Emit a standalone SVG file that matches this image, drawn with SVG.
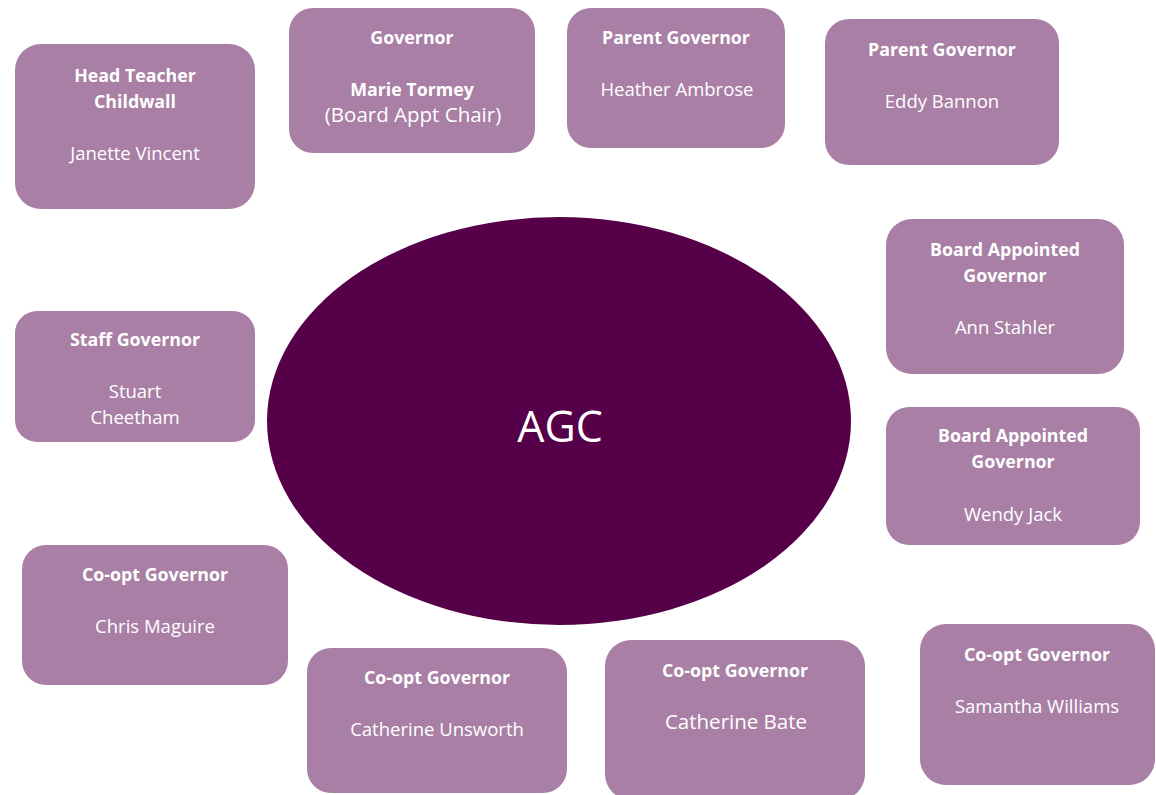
<svg xmlns="http://www.w3.org/2000/svg" width="1156" height="795" viewBox="0 0 1156 795">
<style>
.box{fill:#A97FA5}
.t{font-family:"Open Sans","Noto Sans","Liberation Sans",sans-serif;fill:#FFFFFF;text-anchor:middle;font-size:18.5px}
.b{font-weight:bold;font-size:17.8px}
.l{font-size:20.5px}
</style>
<rect width="1156" height="795" fill="#FFFFFF"/>
<g id="connectors"></g>
<g id="agc">
<ellipse cx="559" cy="421" rx="292" ry="204" fill="#56004A"/>
<text class="t" x="560" y="442" style="font-size:43px">AGC</text>
</g>
<g id="head-teacher">
<rect class="box" x="15" y="44" width="240" height="165" rx="26"/>
<text class="t b" x="135" y="82">Head Teacher</text>
<text class="t b" x="135" y="108">Childwall</text>
<text class="t" x="135" y="160">Janette Vincent</text>
</g>
<g id="governor-chair">
<rect class="box" x="289" y="8" width="246" height="145" rx="24"/>
<text class="t b" x="412" y="44">Governor</text>
<text class="t b" x="412" y="96">Marie Tormey</text>
<text class="t l" x="413" y="122">(Board Appt Chair)</text>
</g>
<g id="parent-heather">
<rect class="box" x="567" y="8" width="218" height="140" rx="24"/>
<text class="t b" x="676" y="44">Parent Governor</text>
<text class="t" x="677" y="96">Heather Ambrose</text>
</g>
<g id="parent-eddy">
<rect class="box" x="825" y="19" width="234" height="146" rx="24"/>
<text class="t b" x="942" y="56">Parent Governor</text>
<text class="t" x="942" y="108">Eddy Bannon</text>
</g>
<g id="board-ann">
<rect class="box" x="886" y="219" width="238" height="155" rx="26"/>
<text class="t b" x="1005" y="256">Board Appointed</text>
<text class="t b" x="1005" y="282">Governor</text>
<text class="t" x="1005" y="334">Ann Stahler</text>
</g>
<g id="board-wendy">
<rect class="box" x="886" y="407" width="254" height="138" rx="23"/>
<text class="t b" x="1013" y="442">Board Appointed</text>
<text class="t b" x="1013" y="468">Governor</text>
<text class="t" x="1013" y="521">Wendy Jack</text>
</g>
<g id="staff">
<rect class="box" x="15" y="311" width="240" height="131" rx="22"/>
<text class="t b" x="135" y="346">Staff Governor</text>
<text class="t" x="135" y="398">Stuart</text>
<text class="t" x="135" y="424">Cheetham</text>
</g>
<g id="coopt-chris">
<rect class="box" x="22" y="545" width="266" height="140" rx="24"/>
<text class="t b" x="155" y="581">Co-opt Governor</text>
<text class="t" x="155" y="633">Chris Maguire</text>
</g>
<g id="coopt-unsworth">
<rect class="box" x="307" y="648" width="260" height="145" rx="24"/>
<text class="t b" x="437" y="684">Co-opt Governor</text>
<text class="t" x="437" y="736">Catherine Unsworth</text>
</g>
<g id="coopt-bate">
<rect class="box" x="605" y="640" width="260" height="160" rx="26"/>
<text class="t b" x="735" y="677">Co-opt Governor</text>
<text class="t l" x="736" y="729">Catherine Bate</text>
</g>
<g id="coopt-samantha">
<rect class="box" x="920" y="624" width="235" height="161" rx="26"/>
<text class="t b" x="1037" y="661">Co-opt Governor</text>
<text class="t" x="1037" y="713">Samantha Williams</text>
</g>
</svg>
